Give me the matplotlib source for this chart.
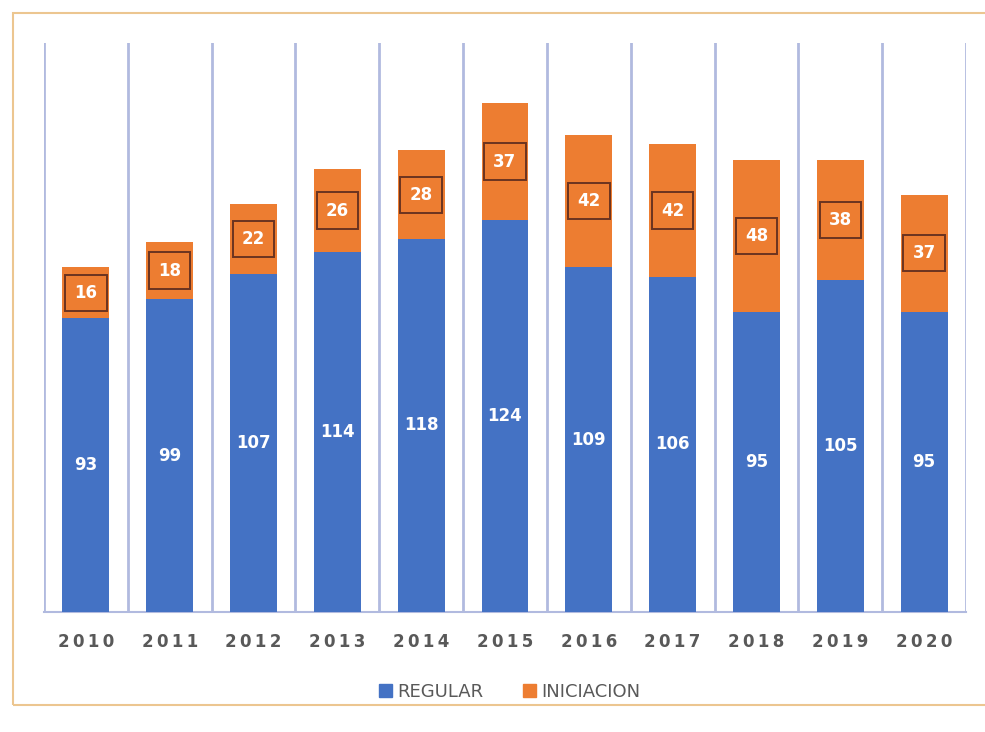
import numpy as np
import matplotlib.pyplot as plt
from matplotlib.patches import Rectangle, Patch

years = ['2010', '2011', '2012', '2013', '2014', '2015', '2016', '2017', '2018', '2019', '2020']
regular = [93, 99, 107, 114, 118, 124, 109, 106, 95, 105, 95]
iniciacion = [16, 18, 22, 26, 28, 37, 42, 42, 48, 38, 37]

c_reg = '#4472c4'
c_ini = '#ed7d31'
c_grid = '#b1badf'

fig = plt.figure(figsize=(9.85, 7.32), dpi=100)
fig.patch.set_facecolor('white')

# orange frame around the chart (runs off the right edge like the screenshot)
fig.patches.append(Rectangle((13/985, 1-705/732), 1.0, (705-13)/732,
                             transform=fig.transFigure, fill=False,
                             edgecolor='#ecc690', linewidth=1.5))

ax = fig.add_axes([44/985, 1-612/732, (966-44)/985, (612-43)/732])
x = np.arange(len(years))
w = 0.56

ax.bar(x, regular, w, color=c_reg, label='REGULAR', zorder=3)
ax.bar(x, iniciacion, w, bottom=regular, color=c_ini, label='INICIACION', zorder=3)

for i in range(len(years)):
    ax.text(x[i], regular[i]/2, str(regular[i]), ha='center', va='center',
            color='white', fontsize=12, fontweight='bold', zorder=4)
    ax.text(x[i], regular[i] + iniciacion[i]/2, str(iniciacion[i]), ha='center', va='center',
            color='white', fontsize=12, fontweight='bold', zorder=4,
            bbox=dict(boxstyle='square,pad=0.55', facecolor=c_ini,
                      edgecolor='#6b3320', linewidth=1.4))

for b in np.arange(len(years) + 1) - 0.5:
    ax.axvline(b, color=c_grid, linewidth=2, zorder=1)

ax.set_xlim(-0.5, len(years) - 0.5)
ax.set_ylim(0, 180)
ax.set_yticks([])
ax.set_xticks(x)
ax.set_xticklabels(['\u2009'.join(y) for y in years], fontsize=12,
                   fontweight='bold', color='#595959')
ax.tick_params(axis='x', length=0, pad=15)
for s in ['left', 'right', 'top']:
    ax.spines[s].set_visible(False)
ax.spines['bottom'].set_color(c_grid)
ax.spines['bottom'].set_linewidth(1.5)

handles = [Patch(color=c_reg), Patch(color=c_ini)]
fig.legend(handles, ['REGULAR', 'INICIACION'], loc='center',
           bbox_to_anchor=(510/985, 1-692/732), ncol=2, frameon=False,
           handlelength=0.7, handleheight=0.7, handletextpad=0.3, columnspacing=2.2,
           prop={'size': 13}, labelcolor='#595959')

plt.savefig('out.png', dpi=100)
